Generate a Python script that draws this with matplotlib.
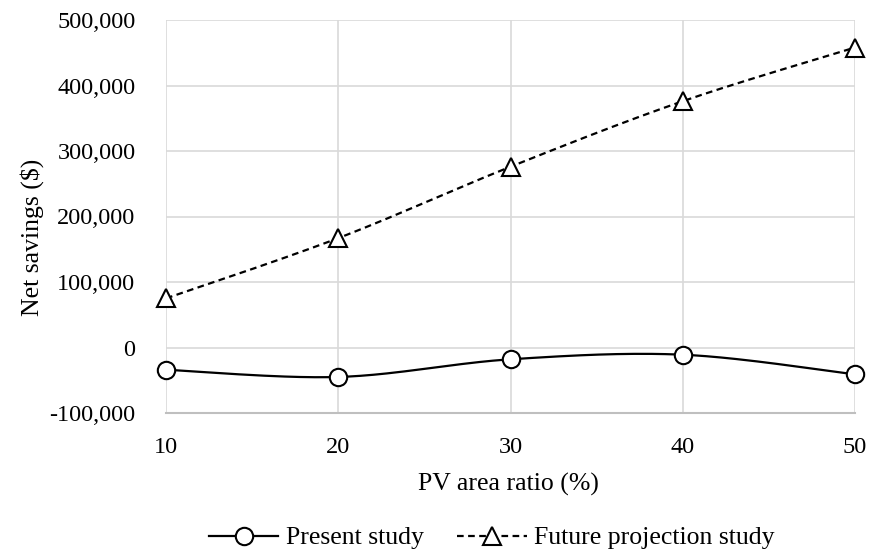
import numpy as np
import matplotlib
matplotlib.use("Agg")
import matplotlib.pyplot as plt
from matplotlib.ticker import FuncFormatter

pv_ratio = [10, 20, 30, 40, 50]
present_study = [-34000, -45000, -18000, -11000, -41000]
future_projection = [75000, 167000, 276000, 376000, 458000]
y_ticks = [-100000, 0, 100000, 200000, 300000, 400000, 500000]

plt.rcParams['font.family'] = ['Liberation Serif', 'DejaVu Serif']


def smooth(x, y, n=40):
    # Catmull-Rom spline (Excel-style smoothed line)
    x = np.asarray(x, float)
    y = np.asarray(y, float)
    px = np.concatenate([[x[0]], x, [x[-1]]])
    py = np.concatenate([[y[0]], y, [y[-1]]])
    xs, ys = [], []
    for i in range(1, len(px) - 2):
        p0x, p1x, p2x, p3x = px[i - 1], px[i], px[i + 1], px[i + 2]
        p0y, p1y, p2y, p3y = py[i - 1], py[i], py[i + 1], py[i + 2]
        c1x, c1y = p1x + (p2x - p0x) / 6, p1y + (p2y - p0y) / 6
        c2x, c2y = p2x - (p3x - p1x) / 6, p2y - (p3y - p1y) / 6
        t = np.linspace(0, 1, n)
        b0, b1, b2, b3 = (1 - t) ** 3, 3 * (1 - t) ** 2 * t, 3 * (1 - t) * t ** 2, t ** 3
        xs.append(b0 * p1x + b1 * c1x + b2 * c2x + b3 * p2x)
        ys.append(b0 * p1y + b1 * c1y + b2 * c2y + b3 * p2y)
    return np.concatenate(xs), np.concatenate(ys)


fig = plt.figure(figsize=(8.72, 5.54), dpi=100)
ax = fig.add_axes([166 / 872, 1 - 413 / 554, (855 - 166) / 872, (413 - 20) / 554])

sx, sy = smooth(pv_ratio, present_study)
ax.plot(sx, sy, color='black', lw=1.6, zorder=3, clip_on=False)
ax.plot(pv_ratio, present_study, ls='none', marker='o', ms=12.5, mfc='white',
        mec='black', mew=1.5, zorder=4, clip_on=False)

fx, fy = smooth(pv_ratio, future_projection)
ax.plot(fx, fy, color='black', lw=1.6, ls=(0, (3, 2)), zorder=3, clip_on=False)
ax.plot(pv_ratio, future_projection, ls='none', marker='^', ms=13.5, mfc='white',
        mec='black', mew=1.5, zorder=4, clip_on=False)

# legend handles
h1, = ax.plot([], [], color='black', lw=1.6, marker='o', ms=12.5, mfc='white', mec='black', mew=1.5)
h2, = ax.plot([], [], color='black', lw=1.6, ls=(0, (3, 2)), marker='^', ms=13.5, mfc='white', mec='black', mew=1.5)

ax.set_xlim(10, 50)
ax.set_ylim(-100000, 500000)
ax.set_xticks(pv_ratio)
ax.set_yticks(y_ticks)
ax.yaxis.set_major_formatter(FuncFormatter(lambda v, p: f"{int(v):,}"))
ax.grid(True, color='#d9d9d9', lw=1.2)
ax.set_axisbelow(True)
for s in ['top', 'right', 'left']:
    ax.spines[s].set_visible(False)
ax.spines['bottom'].set_color('#bfbfbf')
ax.spines['bottom'].set_linewidth(1.5)
ax.tick_params(length=0, labelsize=17.5)
ax.tick_params(axis='x', pad=17)
ax.tick_params(axis='y', pad=22)
ax.set_xlabel('PV area ratio (%)', fontsize=18.5, va='center')
ax.xaxis.set_label_coords(0.497, (413 - 484) / 393)
ax.set_ylabel('Net savings ($)', fontsize=18.5, va='center')
ax.yaxis.set_label_coords((32 - 166) / 689, (413 - 237) / 393)

fig.legend([h1, h2], ['Present study', 'Future projection study'], loc='center',
           bbox_to_anchor=(492 / 872, 1 - 538 / 554), ncol=2, frameon=False, fontsize=18.5,
           handlelength=2.7, columnspacing=1.3, handletextpad=0.3)

fig.savefig('out.png', dpi=100)
